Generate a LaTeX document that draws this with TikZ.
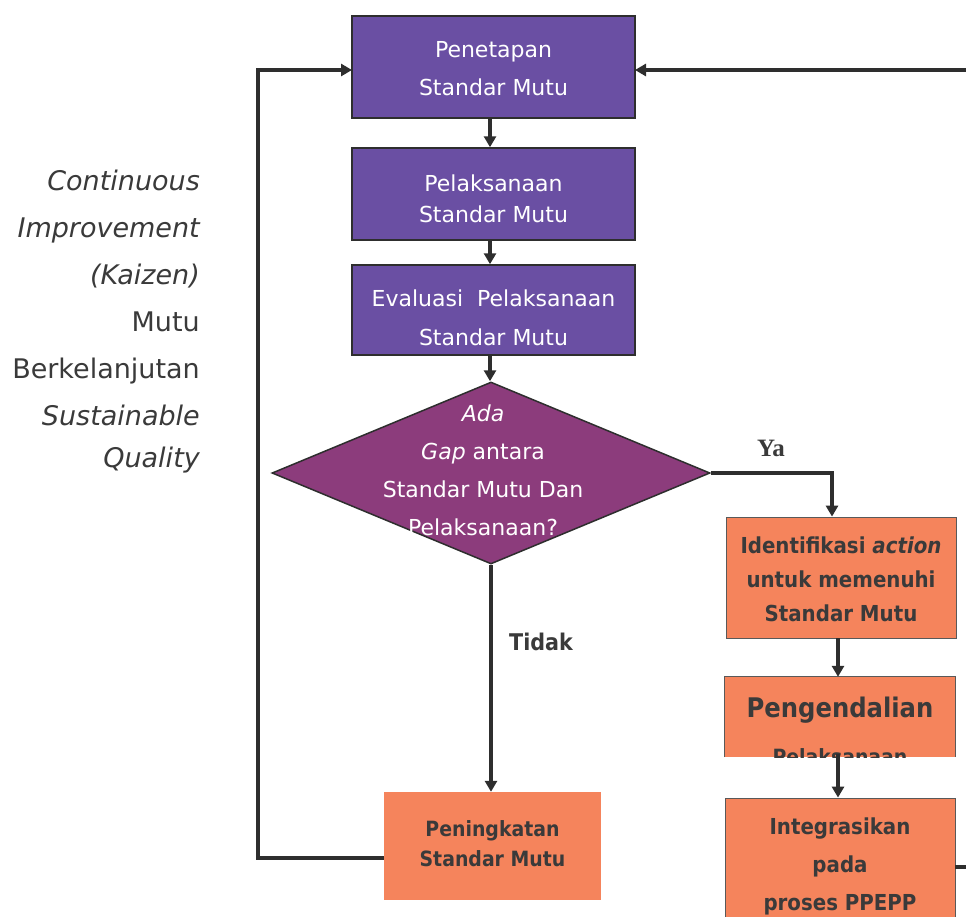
\documentclass[tikz,border=0pt]{standalone}
\usepackage{fontspec}
\setmainfont{DejaVu Sans}
\newfontfamily\condf{DejaVu Sans Condensed}
\newfontfamily\serifbf{Liberation Serif}
\usetikzlibrary{shapes.geometric,arrows.meta}
\definecolor{boxpurple}{HTML}{6A4FA3}
\definecolor{diapurple}{HTML}{8C3C7C}
\definecolor{boxorange}{HTML}{F5845C}
\definecolor{txtgray}{HTML}{3A3A3A}
\definecolor{linegray}{HTML}{2E2E2E}
\begin{document}
\begin{tikzpicture}[x=1pt,y=-1pt,
  pbox/.style={rectangle, draw=linegray, line width=1.5pt, fill=boxpurple, minimum width=283pt, inner sep=0pt},
  obox/.style={rectangle, fill=boxorange, draw=gray!70!black, line width=0.8pt, minimum width=230pt, inner sep=0pt},
  conn/.style={draw=linegray, line width=4pt},
  arr/.style={conn, -{Triangle[length=11pt,width=12pt]}},
  ptext/.style={text=white, font=\fontsize{22}{38}\selectfont, align=center, inner sep=0pt},
  otext/.style={text=txtgray, font=\condf\bfseries\fontsize{22}{34}\selectfont, align=center, inner sep=0pt},
  ltext/.style={text=txtgray, font=\fontsize{27}{47}\selectfont, align=right, inner sep=0pt}
]
\useasboundingbox (0,0) rectangle (966,916);
\clip (0,0) rectangle (966,916);

% left label
\node[ltext, anchor=east] (side) at (200,322) {\itshape Continuous\\\itshape Improvement\\\itshape (Kaizen)\\Mutu\\Berkelanjutan\\\itshape Sustainable\\[-5pt]\itshape Quality};

% purple boxes
\node[pbox, minimum height=102pt] (b1) at (493.5,67) {};
\node[ptext] (t1) at (493.5,69) {Penetapan\\Standar Mutu};
\node[pbox, minimum height=92pt] (b2) at (493.5,194) {};
\node[ptext, font=\fontsize{22}{31}\selectfont] (t2) at (493.5,198.5) {Pelaksanaan\\Standar Mutu};
\node[pbox, minimum height=90pt] (b3) at (493.5,310) {};
\node[ptext, font=\fontsize{22}{39}\selectfont] (t3) at (493.5,317.5) {Evaluasi~~Pelaksanaan\\Standar Mutu};

% diamond
\node[diamond, draw=linegray, line width=1.5pt, fill=diapurple, minimum width=438pt, minimum height=182pt, inner sep=0pt] (dia) at (491,473) {};
\node[ptext, font=\fontsize{22}{38}\selectfont] (tdia) at (483,470) {\itshape Ada\\\itshape Gap\upshape{} antara\\Standar Mutu Dan\\Pelaksanaan?};

% right column
\node[obox, minimum height=121pt] (ident) at (841,577.5) {};
\node[otext] (tident) at (841,579) {Identifikasi \itshape action\\untuk memenuhi\\Standar Mutu};

\node[rectangle, fill=boxorange, minimum width=230pt, minimum height=80pt, inner sep=0pt] (peng) at (840,717) {};
\draw[gray!70!black, line width=0.8pt] (peng.south west) -- (peng.north west) -- (peng.north east) -- (peng.south east);
\begin{scope}
  \clip (peng.south west) rectangle (peng.north east);
  \node[otext, font=\condf\bfseries\fontsize{27}{30}\selectfont] (tpeng1) at (840,710) {Pengendalian};
  \node[otext, font=\condf\bfseries\fontsize{21}{24}\selectfont] (tpeng2) at (840,757) {Pelaksanaan};
\end{scope}

\node[obox, minimum height=140pt] (integ) at (840,868) {};
\node[otext, font=\condf\bfseries\fontsize{22}{38}\selectfont] (tinteg) at (840,866) {Integrasikan\\pada\\proses PPEPP};

% bottom middle box
\node[rectangle, fill=boxorange, minimum width=217pt, minimum height=108pt, inner sep=0pt] (ping) at (492.5,846) {};
\node[otext, font=\condf\bfseries\fontsize{21}{30}\selectfont] (tping) at (492.5,844) {Peningkatan\\Standar Mutu};

% labels
\node[font=\serifbf\bfseries\fontsize{25}{28}\selectfont, text=txtgray, inner sep=0pt] (ya) at (771,448) {Ya};
\node[font=\condf\bfseries\fontsize{23}{26}\selectfont, text=txtgray, anchor=west, inner sep=0pt] (tidak) at (509,642) {Tidak};

% coordinates
\coordinate (yaturn) at (832,473);
\coordinate (lturn1) at (258,858);
\coordinate (lturn2) at (258,70);
\coordinate (b1w) at (352,70);
\coordinate (b1e) at (635,70);
\coordinate (rturn1) at (980,867);
\coordinate (rturn2) at (980,70);

% connectors
\draw[arr] (b1.south -| 490,0) -- (b2.north -| 490,0);
\draw[arr] (b2.south -| 490,0) -- (b3.north -| 490,0);
\draw[arr] (b3.south -| 490,0) -- (dia.north -| 490,0);
\draw[arr] (dia.east) -- (dia.east -| yaturn) -- (ident.north -| yaturn);
\draw[arr] (ident.south -| 838,0) -- (peng.north -| 838,0);
\draw[arr] ([yshift=3pt]peng.south -| 838,0) -- (integ.north -| 838,0);
\draw[arr] (dia.south -| 491,0) -- (ping.north -| 491,0);
\draw[arr] (ping.west |- lturn1) -- (lturn1) -- (lturn2) -- (b1w);
\draw[arr] (integ.east |- rturn1) -- (rturn1) -- (rturn2) -- (b1e);
\end{tikzpicture}
\end{document}
